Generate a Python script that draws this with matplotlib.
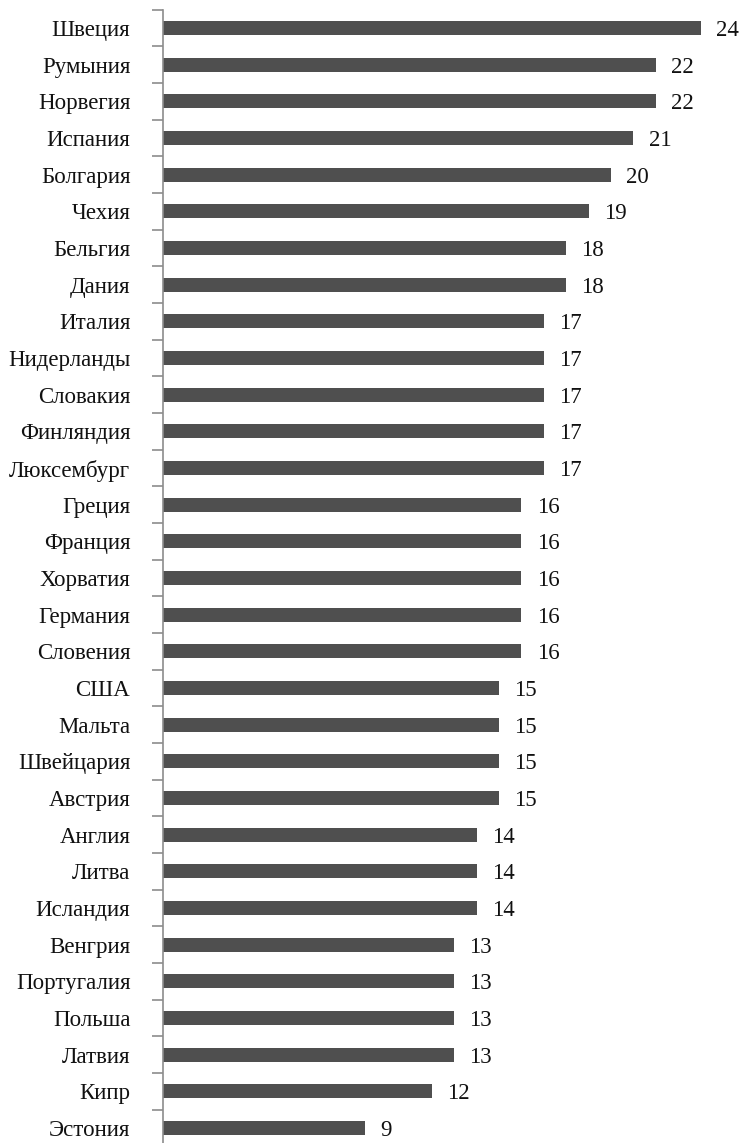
import matplotlib
matplotlib.use("Agg")
import matplotlib.pyplot as plt
import numpy as np

countries = ["Швеция", "Румыния", "Норвегия", "Испания", "Болгария", "Чехия",
             "Бельгия", "Дания", "Италия", "Нидерланды", "Словакия", "Финляндия",
             "Люксембург", "Греция", "Франция", "Хорватия", "Германия", "Словения",
             "США", "Мальта", "Швейцария", "Австрия", "Англия", "Литва", "Исландия",
             "Венгрия", "Португалия", "Польша", "Латвия", "Кипр", "Эстония"]
values = [24, 22, 22, 21, 20, 19, 18, 18, 17, 17, 17, 17, 17, 16, 16, 16, 16, 16,
          15, 15, 15, 15, 14, 14, 14, 13, 13, 13, 13, 12, 9]

plt.rcParams['font.family'] = ['Liberation Serif', 'DejaVu Serif']

W, H = 740, 1143
fig = plt.figure(figsize=(W / 100, H / 100), dpi=100)
step = 1100 / 30
top_px = 28 - step / 2
ax_h = step * len(countries)
ax = fig.add_axes([163 / W, (H - top_px - ax_h) / H, (W - 163) / W, ax_h / H])

y = np.arange(len(countries))
ax.barh(y, values, height=0.38, color='#4f4f4f')
ax.set_ylim(len(countries) - 0.5, -0.5)
ax.set_xlim(0, (W - 163) / 22.4)

for yi, v in zip(y, values):
    ax.text(v + 0.68, yi, str(v), va='center_baseline', ha='left', fontsize=16.5, color='#111111')

ax.set_yticks(y)
ax.set_yticklabels(countries, fontsize=16.5, color='#111111')
ax.tick_params(axis='y', which='major', length=0, pad=23.5)
ax.set_yticks(np.arange(-0.5, len(countries), 1), minor=True)
ax.tick_params(axis='y', which='minor', length=8, color='#8c8c8c', width=1.2, direction='out')
ax.set_xticks([])
for s in ['top', 'right', 'bottom']:
    ax.spines[s].set_visible(False)
ax.spines['left'].set_color('#8c8c8c')
ax.spines['left'].set_linewidth(1.2)

fig.savefig('out.png', dpi=100)
